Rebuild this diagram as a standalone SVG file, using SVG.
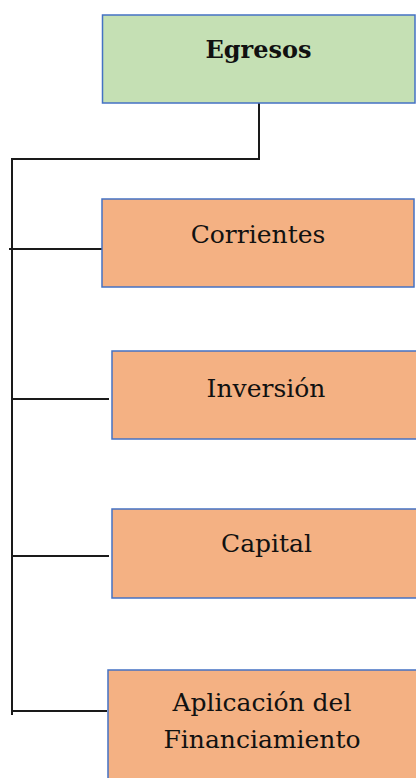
<svg xmlns="http://www.w3.org/2000/svg" width="416" height="778" viewBox="0 0 416 778">
<style>
.box{stroke:#4472C4;stroke-width:1.5}
.root{fill:#C5E0B4}
.child{fill:#F4B183}
.lbl{font-family:'DejaVu Serif','Liberation Serif',serif;font-size:25px;fill:#111;text-anchor:middle}
.b{font-weight:bold;font-size:24px}
.con{stroke:#1a1a1a;stroke-width:2;fill:none}
</style>
<rect width="416" height="778" fill="#fff"/>
<g id="connectors">
<path class="con" d="M259 103 V159 M11 159 H260 M12 159 V715"/>
<path class="con" d="M9 249 H104"/>
<path class="con" d="M12 399 H109"/>
<path class="con" d="M12 556 H109"/>
<path class="con" d="M12 711 H107"/>
</g>
<g id="egresos"><rect class="box root" x="102.5" y="15" width="312.5" height="88"/><text class="lbl b" x="258.5" y="58">Egresos</text></g>
<g id="corrientes"><rect class="box child" x="102" y="199" width="312" height="88"/><text class="lbl" x="258" y="243">Corrientes</text></g>
<g id="inversion"><rect class="box child" x="112" y="351" width="312" height="88"/><text class="lbl" x="266" y="397">Inversión</text></g>
<g id="capital"><rect class="box child" x="112" y="509" width="312" height="89"/><text class="lbl" x="266.5" y="552">Capital</text></g>
<g id="aplicacion"><rect class="box child" x="108" y="670" width="312" height="120"/><text class="lbl" x="262" y="711">Aplicación del</text><text class="lbl" x="262" y="748">Financiamiento</text></g>
</svg>
